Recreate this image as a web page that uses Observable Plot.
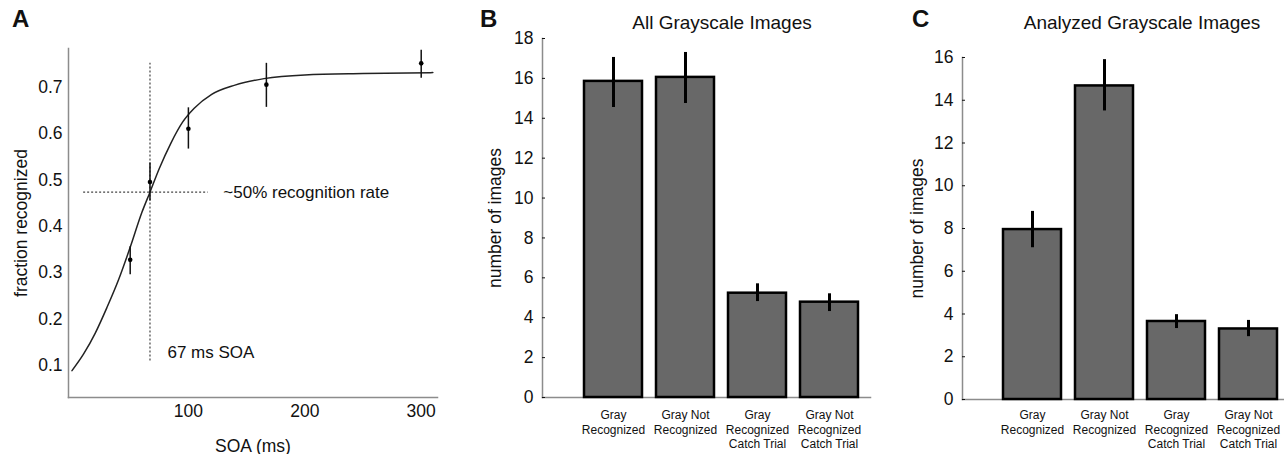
<!DOCTYPE html>
<html><head><meta charset="utf-8">
<script src="https://cdn.jsdelivr.net/npm/d3@7"></script>
<script src="https://cdn.jsdelivr.net/npm/@observablehq/plot@0.6"></script>
<style>
body{margin:0;background:#fff;}
#root{position:relative;width:1284px;height:454px;overflow:hidden;font-family:"Liberation Sans",Arial,sans-serif;background:#fff;}
.panel{position:absolute;top:0;}
.letter{position:absolute;top:7px;font-weight:bold;font-size:24px;line-height:1;color:#111;}
.title{position:absolute;top:13px;font-size:19px;line-height:1;color:#111;transform:translateX(-50%);white-space:nowrap;}
.bars g[aria-label="x-axis tick label"]{font-size:12px !important;}
</style></head><body><div id="root"></div>
<script>
// ---------- Panel A: recognition vs SOA ----------
const soa = [50, 67, 100, 167, 300];
const fracRecognized = [0.328, 0.496, 0.611, 0.706, 0.752];
const fracLow = [0.296, 0.455, 0.567, 0.657, 0.720];
const fracHigh = [0.356, 0.537, 0.656, 0.752, 0.780];
const fitSOA = [0, 10, 20, 30, 40, 50, 60, 67, 75, 85, 95, 105, 120, 140, 165, 200, 250, 310];
const fitFrac = [0.089, 0.125, 0.170, 0.225, 0.285, 0.355, 0.430, 0.474, 0.525, 0.580, 0.625, 0.655, 0.685, 0.705, 0.719, 0.727, 0.730, 0.732];
const thresholdSOA = 67;
const thresholdFrac = 0.474;
const hLineSOA = [10, 117];
const vLineFrac = [0.11, 0.752];
const annotationText = ["~50% recognition rate", "67 ms SOA"];
const annotationSOA = [130, 82];
const annotationFrac = [0.474, 0.128];
const xTicksA = [100, 200, 300];
const yTicksA = [0.1, 0.2, 0.3, 0.4, 0.5, 0.6, 0.7];

// ---------- Panels B & C: image counts ----------
const categories = ["Gray\nRecognized", "Gray Not\nRecognized", "Gray\nRecognized\nCatch Trial", "Gray Not\nRecognized\nCatch Trial"];
const allCounts = [15.85, 16.05, 5.23, 4.78];
const allLow = [14.54, 14.74, 4.81, 4.31];
const allHigh = [17.05, 17.3, 5.7, 5.2];
const analyzedCounts = [7.95, 14.67, 3.65, 3.3];
const analyzedLow = [7.1, 13.5, 3.32, 2.94];
const analyzedHigh = [8.8, 15.9, 3.97, 3.7];
const yTicksB = [0, 2, 4, 6, 8, 10, 12, 14, 16, 18];
const yTicksC = [0, 2, 4, 6, 8, 10, 12, 14, 16];

const FONT = "Liberation Sans, Arial, Helvetica, sans-serif";
const AXIS_GRAY = "#8c8c8c";
const root = document.getElementById("root");

function place(el, left, cls) {
  const wrap = document.createElement("div");
  wrap.className = "panel" + (cls ? " " + cls : "");
  wrap.style.left = left + "px";
  wrap.appendChild(el);
  root.appendChild(wrap);
}
function addText(cls, text, left) {
  const d = document.createElement("div");
  d.className = cls;
  d.textContent = text;
  d.style.left = left + "px";
  root.appendChild(d);
}

// Panel A
const dataA = soa.map((s, i) => ({soa: s, frac: fracRecognized[i], lo: fracLow[i], hi: fracHigh[i]}));
const fitA = fitSOA.map((s, i) => ({soa: s, frac: fitFrac[i]}));
const plotA = Plot.plot({
  width: 440, height: 454,
  marginLeft: 68, marginRight: 3, marginTop: 48, marginBottom: 57,
  style: {fontFamily: FONT, fontSize: "17px", color: "#111", background: "transparent", overflow: "visible"},
  x: {domain: [-3, 314]},
  y: {domain: [0.031, 0.784]},
  marks: [
    Plot.frame({anchor: "left", stroke: AXIS_GRAY, strokeWidth: 1.5}),
    Plot.frame({anchor: "bottom", stroke: AXIS_GRAY, strokeWidth: 1.5}),
    Plot.axisX({ticks: xTicksA, tickSize: 0, tickPadding: 7, label: "SOA (ms)", labelAnchor: "center", labelOffset: 54, labelArrow: "none", fontSize: 17.5}),
    Plot.axisY({ticks: yTicksA, tickSize: 0, tickPadding: 6, tickFormat: d3.format(".1f"), label: "fraction recognized", labelAnchor: "center", labelOffset: 54, labelArrow: "none", fontSize: 17.5}),
    Plot.ruleX([thresholdSOA], {y1: vLineFrac[0], y2: vLineFrac[1], stroke: "#444", strokeWidth: 1.2, strokeDasharray: "2,2"}),
    Plot.ruleY([thresholdFrac], {x1: hLineSOA[0], x2: hLineSOA[1], stroke: "#444", strokeWidth: 1.2, strokeDasharray: "2,2"}),
    Plot.line(fitA, {x: "soa", y: "frac", curve: "monotone-x", stroke: "#222", strokeWidth: 1.5}),
    Plot.ruleX(dataA, {x: "soa", y1: "lo", y2: "hi", stroke: "#111", strokeWidth: 1.5}),
    Plot.dot(dataA, {x: "soa", y: "frac", r: 2.3, fill: "#000", stroke: null}),
    Plot.text(annotationText, {x: annotationSOA, y: annotationFrac, text: d => d, textAnchor: "start", fontSize: 17, fill: "#111"})
  ]
});
place(plotA, 0);

function barPanel(counts, lo, hi, yDomain, yTicks, opts) {
  const rows = categories.map((c, i) => ({cat: c, n: counts[i], lo: lo[i], hi: hi[i]}));
  return Plot.plot({
    width: opts.width, height: 454,
    marginLeft: opts.marginLeft, marginRight: 0, marginTop: opts.marginTop, marginBottom: opts.marginBottom,
    style: {fontFamily: FONT, fontSize: "17px", color: "#111", background: "transparent", overflow: "visible"},
    x: {domain: categories, range: opts.xRange, paddingInner: 0.19, paddingOuter: 0.095},
    y: {domain: yDomain},
    marks: [
      Plot.frame({anchor: "left", stroke: AXIS_GRAY, strokeWidth: 1.5}),
      Plot.frame({anchor: "bottom", stroke: AXIS_GRAY, strokeWidth: 1.5}),
      Plot.barY(rows, {x: "cat", y: "n", fill: "#686868", stroke: "#000", strokeWidth: 2.5}),
      Plot.ruleX(rows, {x: "cat", y1: "lo", y2: "hi", stroke: "#000", strokeWidth: 3}),
      Plot.axisX({tickSize: 0, tickPadding: opts.xPad, fontSize: 12, lineHeight: 1.22, label: null}),
      Plot.axisY({ticks: yTicks, tickSize: -3, tickPadding: 12, label: "number of images", labelAnchor: "center", labelOffset: opts.labelOffset, labelArrow: "none", fontSize: 17.5})
    ]
  });
}

const plotB = barPanel(allCounts, allLow, allHigh, [0, 18], yTicksB,
  {width: 430, marginLeft: 102, marginTop: 38, marginBottom: 57, xRange: [136.25, 426.25], xPad: 11, labelOffset: 54});
place(plotB, 440, "bars");

const plotC = barPanel(analyzedCounts, analyzedLow, analyzedHigh, [0, 16], yTicksC,
  {width: 414, marginLeft: 92, marginTop: 57, marginBottom: 55, xRange: [126, 414], xPad: 9, labelOffset: 52});
place(plotC, 870, "bars");

addText("letter", "A", 12);
addText("letter", "B", 480);
addText("letter", "C", 912);
addText("title", "All Grayscale Images", 722);
addText("title", "Analyzed Grayscale Images", 1142);
</script>
</body></html>
